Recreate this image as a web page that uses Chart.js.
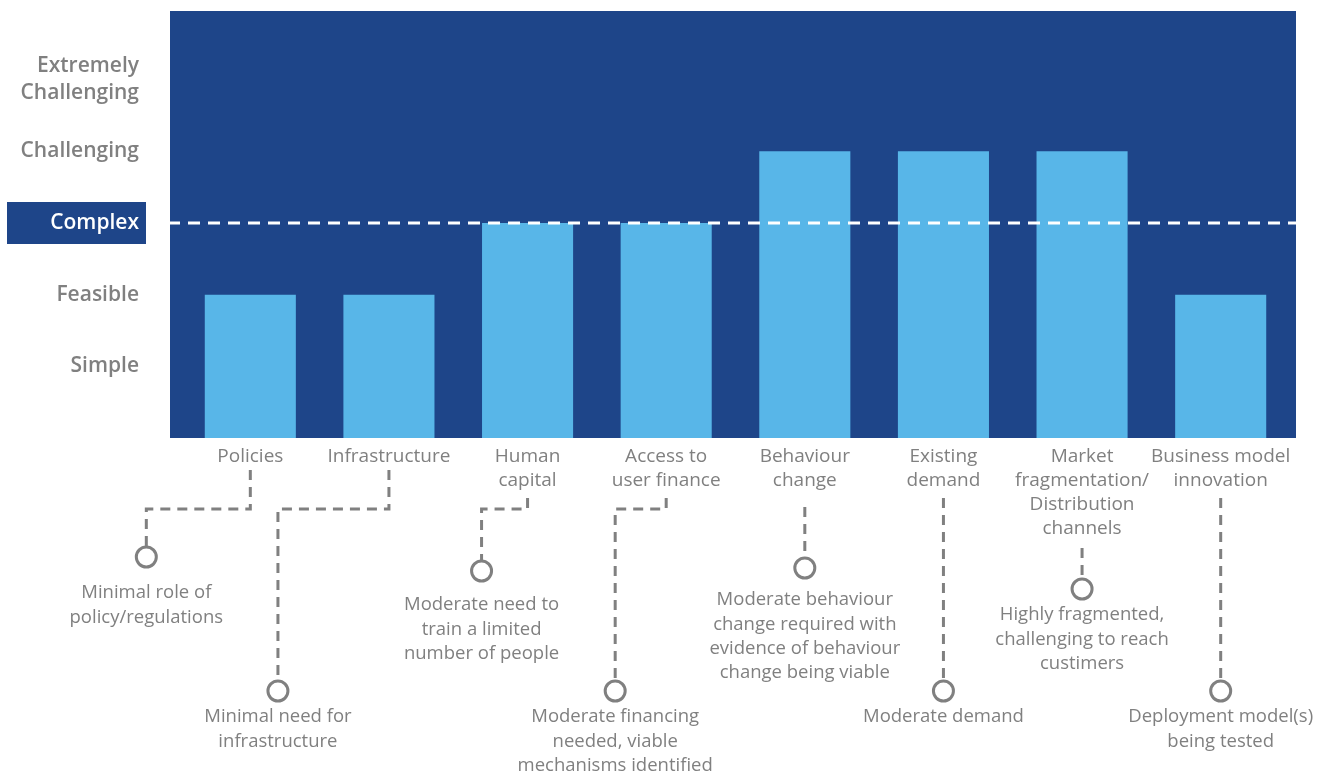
<!DOCTYPE html>
<html>
<head>
<meta charset="utf-8">
<script src="https://cdn.jsdelivr.net/npm/chart.js@4/dist/chart.umd.min.js"></script>
<style>
  html, body { margin: 0; padding: 0; background: #ffffff; }
  #wrap { width: 1319px; height: 776px; position: relative; }
</style>
</head>
<body>
<div id="wrap"><canvas id="c" width="1319" height="776"></canvas></div>
<script>
// ---- data ----
const categories = [
  ["Policies"],
  ["Infrastructure"],
  ["Human", "capital"],
  ["Access to", "user finance"],
  ["Behaviour", "change"],
  ["Existing", "demand"],
  ["Market", "fragmentation/", "Distribution", "channels"],
  ["Business model", "innovation"]
];
// 1 = Simple, 2 = Feasible, 3 = Complex, 4 = Challenging, 5 = Extremely Challenging
const levels = [2, 2, 3, 3, 4, 4, 4, 2];
const levelLabels = ["", "Simple", "Feasible", "Complex", "Challenging", ["Extremely", "Challenging"], ""];
const highlightLevel = 3;
const callouts = [
  ["Minimal role of", "policy/regulations"],
  ["Minimal need for", "infrastructure"],
  ["Moderate need to", "train a limited", "number of people"],
  ["Moderate financing", "needed, viable", "mechanisms identified"],
  ["Moderate behaviour", "change required with", "evidence of behaviour", "change being viable"],
  ["Moderate demand"],
  ["Highly fragmented,", "challenging to reach", "custimers"],
  ["Deployment model(s)", "being tested"]
];

// ---- styling / layout (not data) ----
const NAVY = '#1e4589';
const BAR = '#58b6e8';
const GREY = '#808080';
const FONT = '"Open Sans", Roboto, "DejaVu Sans", sans-serif';
// callout layout relative to chart-area bottom: stem top, bend y, bend dx, circle y, text first line y
const calloutLayout = [
  {stem: 32, bend: 71, dx: -104, circle: 119, text: 155},
  {stem: 32, bend: 71, dx: -111, circle: 253, text: 279},
  {stem: 60, bend: 71, dx: -46,  circle: 133, text: 167},
  {stem: 60, bend: 71, dx: -51,  circle: 253, text: 279},
  {stem: 69, bend: null, dx: 0,  circle: 130, text: 162},
  {stem: 60, bend: null, dx: 0,  circle: 253, text: 279},
  {stem: 110, bend: null, dx: 0, circle: 151, text: 177},
  {stem: 60, bend: null, dx: 0,  circle: 253, text: 279}
];

const decorPlugin = {
  id: 'decor',
  beforeDraw(chart) {
    const {ctx, chartArea: a, scales} = chart;
    ctx.save();
    ctx.fillStyle = NAVY;
    ctx.fillRect(170, a.top + 3, 1296 - 170, a.bottom - a.top - 3);
    const yc = scales.y.getPixelForValue(highlightLevel);
    ctx.fillRect(7, yc - 21, 139, 42);
    ctx.restore();
  },
  afterDatasetsDraw(chart) {
    const {ctx, scales} = chart;
    ctx.save();
    const yc = scales.y.getPixelForValue(highlightLevel);
    ctx.strokeStyle = '#ffffff';
    ctx.lineWidth = 3;
    ctx.setLineDash([12, 8]);
    ctx.beginPath();
    ctx.moveTo(168, yc);
    ctx.lineTo(1296, yc);
    ctx.stroke();
    ctx.restore();
  },
  afterDraw(chart) {
    const {ctx, chartArea: a, scales} = chart;
    const base = a.bottom;
    ctx.save();
    ctx.strokeStyle = GREY;
    ctx.fillStyle = GREY;
    ctx.lineWidth = 3;
    ctx.font = '18.5px ' + FONT;
    ctx.textAlign = 'center';
    ctx.textBaseline = 'middle';
    callouts.forEach((lines, i) => {
      const L = calloutLayout[i];
      const x0 = scales.x.getPixelForValue(i);
      const x1 = x0 + L.dx;
      const r = 10;
      ctx.setLineDash([10, 7]);
      ctx.beginPath();
      if (L.bend !== null) {
        ctx.moveTo(x0, base + L.stem);
        ctx.lineTo(x0, base + L.bend);
        ctx.lineTo(x1, base + L.bend);
        ctx.lineTo(x1, base + L.circle - r);
      } else {
        ctx.moveTo(x0, base + L.stem);
        ctx.lineTo(x0, base + L.circle - r);
      }
      ctx.stroke();
      ctx.setLineDash([]);
      ctx.beginPath();
      ctx.arc(x1, base + L.circle, r, 0, Math.PI * 2);
      ctx.stroke();
      lines.forEach((t, k) => {
        ctx.fillText(t, x1, base + L.text + k * 24.3);
      });
    });
    ctx.restore();
  }
};

new Chart(document.getElementById('c'), {
  type: 'bar',
  data: {
    labels: categories,
    datasets: [{
      data: levels,
      backgroundColor: BAR,
      borderWidth: 0,
      categoryPercentage: 1,
      barPercentage: 0.657
    }]
  },
  options: {
    responsive: false,
    animation: false,
    layout: { padding: { top: 8, right: 29, left: 0, bottom: 0 } },
    plugins: { legend: { display: false }, tooltip: { enabled: false } },
    scales: {
      x: {
        grid: { display: false, drawTicks: false },
        border: { display: false },
        afterFit(s) { s.height = 338; s.paddingLeft = 0; s.paddingRight = 0; },
        ticks: {
          autoSkip: false,
          maxRotation: 0,
          padding: 6,
          color: GREY,
          font: { family: FONT, size: 19, lineHeight: 24.3 / 19 }
        }
      },
      y: {
        min: 0,
        max: 6,
        grid: { display: false, drawTicks: false },
        border: { display: false },
        afterFit(s) { s.width = 181; s.paddingTop = 0; s.paddingBottom = 0; },
        ticks: {
          stepSize: 1,
          autoSkip: false,
          padding: 42,
          color: (c) => c.tick && c.tick.value === highlightLevel ? '#ffffff' : GREY,
          font: { family: FONT, size: 21, weight: '600', lineHeight: 27 / 21 },
          callback: (v) => levelLabels[v]
        }
      }
    }
  },
  plugins: [decorPlugin]
});
</script>
</body>
</html>
